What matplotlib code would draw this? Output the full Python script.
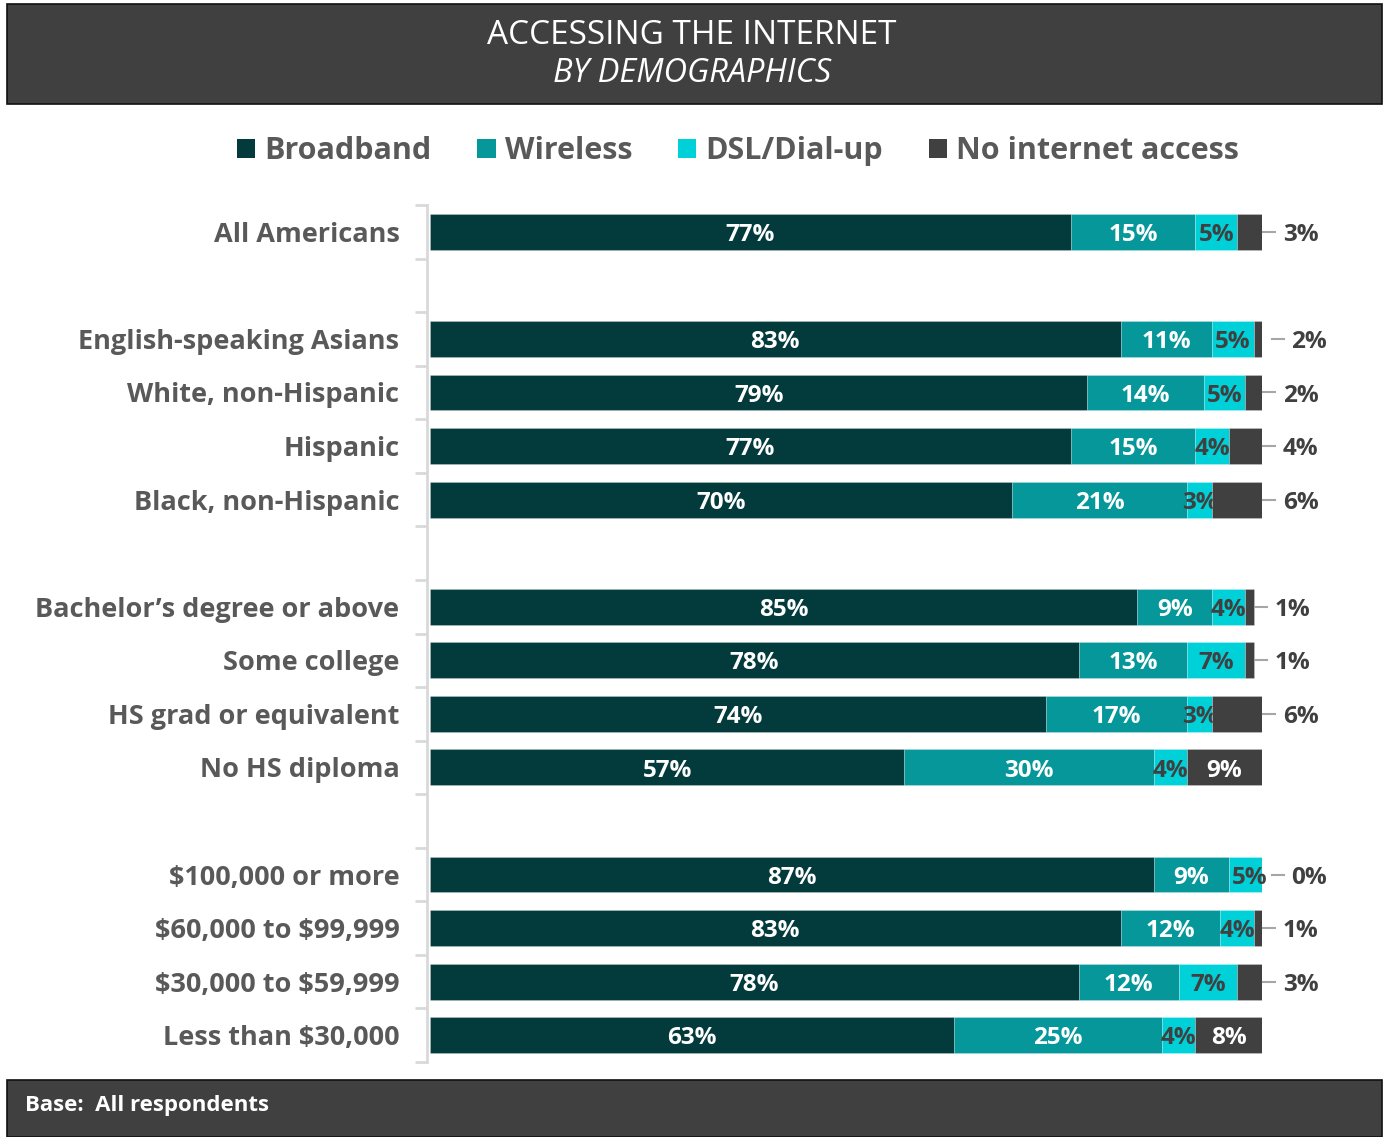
import matplotlib
matplotlib.use("Agg")
import matplotlib.pyplot as plt
from matplotlib.patches import Rectangle, Patch
import numpy as np

plt.rcParams['font.family'] = ['Open Sans', 'DejaVu Sans']
plt.rcParams['text.parse_math'] = False

# ---- data ----
categories = [
    "All Americans", "",
    "English-speaking Asians", "White, non-Hispanic", "Hispanic", "Black, non-Hispanic", "",
    "Bachelor\u2019s degree or above", "Some college", "HS grad or equivalent", "No HS diploma", "",
    "$100,000 or more", "$60,000 to $99,999", "$30,000 to $59,999", "Less than $30,000",
]
broadband = [77, None, 83, 79, 77, 70, None, 85, 78, 74, 57, None, 87, 83, 78, 63]
wireless  = [15, None, 11, 14, 15, 21, None,  9, 13, 17, 30, None,  9, 12, 12, 25]
dsl       = [ 5, None,  5,  5,  4,  3, None,  4,  7,  3,  4, None,  5,  4,  7,  4]
no_access = [ 3, None,  2,  2,  4,  6, None,  1,  1,  6,  9, None,  0,  1,  3,  8]
series_names = ["Broadband", "Wireless", "DSL/Dial-up", "No internet access"]

colors = ["#033b3c", "#05979a", "#00d0d8", "#404040"]
label_colors = ["white", "white", "#404040", None]

W, H = 1385, 1137
fig = plt.figure(figsize=(W / 100, H / 100), dpi=100)

# header and footer bands
fig.add_artist(Rectangle((7 / W, 1 - 104 / H), 1375 / W, 100 / H, transform=fig.transFigure,
                         facecolor="#404040", edgecolor="#111111", lw=1.2))
fig.add_artist(Rectangle((7 / W, 0), 1375 / W, 57 / H, transform=fig.transFigure,
                         facecolor="#404040", edgecolor="#111111", lw=1.2))
fig.text(692 / W, 1 - 35 / H, "ACCESSING THE INTERNET", color="white", fontsize=24,
         ha="center", va="center")
fig.text(692 / W, 1 - 74 / H, "BY DEMOGRAPHICS", color="white", fontsize=23.5,
         style="italic", ha="center", va="center")
fig.text(25 / W, 1 - 1106 / H, "Base:  All respondents", color="white", fontsize=16,
         fontweight="bold", ha="left", va="center")

ax = fig.add_axes([430 / W, 75 / H, 832 / W, 857 / H])
ax.set_xlim(0, 100)
n = len(categories)
ax.set_ylim(n - 0.5, -0.5)

ypos = np.arange(n)
bar_h = 0.67
val_fs = 17.5
dy = 0.06
series = [broadband, wireless, dsl, no_access]
left = np.zeros(n)
for k, (vals, col) in enumerate(zip(series, colors)):
    for i, v in enumerate(vals):
        if v is None:
            continue
        ax.barh(ypos[i], v, left=left[i], height=bar_h, color=col,
                edgecolor="#ffffff40", linewidth=0.6, zorder=2 + k * 2)
        cx = left[i] + v / 2
        if k < 3:
            ax.text(cx, ypos[i] + dy, f"{v}%", ha="center", va="center",
                    color=label_colors[k], fontsize=val_fs, fontweight="bold",
                    zorder=3 + k * 2)
        else:
            end = left[i] + v
            if v >= 8:
                ax.text(cx, ypos[i] + dy, f"{v}%", ha="center", va="center",
                        color="white", fontsize=val_fs, fontweight="bold", zorder=10)
            else:
                ax.plot([end + 0.15, end + 1.6], [ypos[i], ypos[i]], color="#a6a6a6",
                        lw=1.5, clip_on=False, zorder=10)
                ax.text(end + 2.5, ypos[i] + dy, f"{v}%", ha="left", va="center",
                        color="#404040", fontsize=val_fs, fontweight="bold",
                        clip_on=False, zorder=10)
        left[i] += v

# axis styling
for s in ["top", "right", "bottom"]:
    ax.spines[s].set_visible(False)
ax.spines["left"].set_color("#d9d9d9")
ax.spines["left"].set_linewidth(2)
ax.spines["left"].set_position(("outward", 2))
ax.set_xticks([])
ax.set_yticks(ypos)
ax.set_yticklabels(categories, fontsize=19.5, fontweight="bold", color="#595959")
ax.tick_params(axis="y", which="major", length=0, pad=20)
ax.set_yticks(np.arange(-0.5, n, 1.0), minor=True)
ax.tick_params(axis="y", which="minor", length=9, width=2, color="#d9d9d9")

# legend
handles = [Patch(facecolor=c, edgecolor="none") for c in colors]
leg = fig.legend(handles, series_names, loc="center", bbox_to_anchor=(738 / W, 1 - 151 / H),
                 ncol=4, frameon=False, handlelength=0.6, handleheight=0.6,
                 handletextpad=0.3, columnspacing=1.5, fontsize=22)
for t in leg.get_texts():
    t.set_color("#595959")
    t.set_fontweight("bold")

fig.savefig("out.png", dpi=100)
